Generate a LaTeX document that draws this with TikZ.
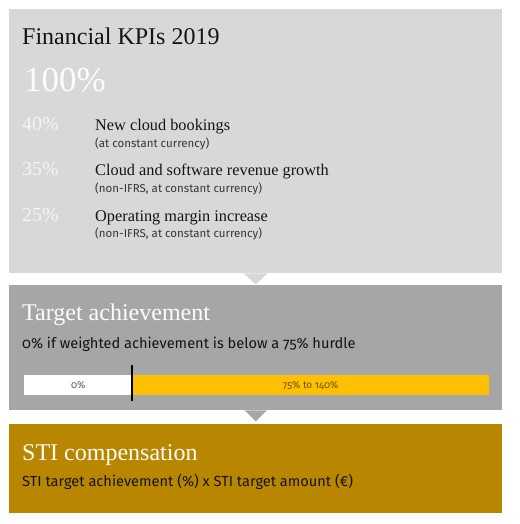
\documentclass[tikz,border=0pt]{standalone}
\usepackage{fontspec}
\setmainfont{Liberation Serif}
\newfontfamily\kpisans[Numbers=OldStyle]{Fira Sans}
\definecolor{boxA}{RGB}{216,216,216}
\definecolor{boxB}{RGB}{166,166,166}
\definecolor{boxC}{RGB}{185,134,0}
\definecolor{barY}{RGB}{255,192,0}
\definecolor{txtW}{RGB}{252,252,252}
\definecolor{pctW}{RGB}{244,244,244}
\definecolor{txtD}{RGB}{20,20,20}
\definecolor{barT}{RGB}{90,90,90}
\definecolor{barT2}{RGB}{110,80,0}
\tikzset{
  panel/.style={anchor=north west, inner sep=0pt, minimum width=493pt},
  lbl/.style={anchor=base west, inner sep=0pt},
  titletxt/.style={lbl, font=\fontsize{24}{26}\selectfont},
  kpitxt/.style={lbl, text=txtD, font=\fontsize{16.3}{18}\selectfont},
  subtxt/.style={lbl, text=txtD!85, font=\kpisans\fontsize{11.5}{13}\selectfont},
  pcttxt/.style={lbl, text=pctW, font=\fontsize{20}{22}\selectfont},
  bodytxt/.style={lbl, text=txtD, font=\kpisans\fontsize{14.6}{16}\selectfont},
  bartxt/.style={inner sep=0pt, font=\kpisans\fontsize{10}{11}\selectfont}
}
\begin{document}
\begin{tikzpicture}[x=1pt,y=-1pt]
\useasboundingbox[fill=white] (0,0) rectangle (519,524);
% panels
\node[panel, fill=boxA, minimum height=264pt] (kpi) at (9,9) {};
\node[panel, fill=boxB, minimum height=125pt] (ach) at (9,285) {};
\node[panel, fill=boxC, minimum height=89pt] (sti) at (9,424) {};
% pointers
\fill[boxA] ([xshift=-12pt]kpi.south) -- ([yshift=-11pt]kpi.south) -- ([xshift=12pt]kpi.south) -- cycle;
\fill[boxB] ([xshift=-11pt]ach.south) -- ([yshift=-11pt]ach.south) -- ([xshift=11pt]ach.south) -- cycle;
% panel 1 texts
\node[titletxt, text=txtD] (t1) at (22,45) {Financial KPIs 2019};
\node[lbl, text=txtW, font=\fontsize{35}{38}\selectfont] (p100) at (24,92) {100\%};
\node[pcttxt] (p40) at (22,130) {40\%};
\node[kpitxt] (k1) at (95,130) {New cloud bookings};
\node[subtxt] (s1) at (95,147) {(at constant currency)};
\node[pcttxt] (p35) at (22,175) {35\%};
\node[kpitxt] (k2) at (95,175) {Cloud and software revenue growth};
\node[subtxt] (s2) at (95,192) {(non-IFRS, at constant currency)};
\node[pcttxt] (p25) at (22,221) {25\%};
\node[kpitxt] (k3) at (95,221) {Operating margin increase};
\node[subtxt] (s3) at (95,237) {(non-IFRS, at constant currency)};
% panel 2
\node[titletxt, text=txtW] (t2) at (22,320) {Target achievement};
\node[bodytxt] (b2) at (22,348) {0\% if weighted achievement is below a 75\% hurdle};
\node[anchor=north west, inner sep=0pt, fill=white, minimum width=108pt, minimum height=20pt] (barw) at (24,375) {};
\node[anchor=north west, inner sep=0pt, fill=barY, minimum width=357pt, minimum height=20pt] (bary) at (132,375) {};
\node[bartxt, text=barT] (l0) at (barw.center) {0\%};
\node[bartxt, text=barT2] (l75) at (bary.center) {75\% to 140\%};
\coordinate (hTop) at (132,365);
\coordinate (hBot) at (132,401);
\draw[black, line width=1.3pt] (hTop) -- (hBot);
% panel 3
\node[titletxt, text=txtW] (t3) at (22,460) {STI compensation};
\node[bodytxt] (b3) at (22,486) {STI target achievement (\%) x STI target amount (€)};
\end{tikzpicture}
\end{document}
